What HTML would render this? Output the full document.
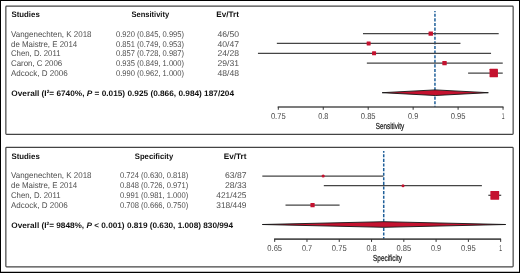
<!DOCTYPE html>
<html><head><meta charset="utf-8"><title>Forest plot</title>
<style>
html,body{margin:0;padding:0;background:#fff;}
body{width:520px;height:273px;overflow:hidden;}
svg{display:block;font-family:"Liberation Sans",sans-serif;text-rendering:geometricPrecision;will-change:transform;}
</style></head>
<body>
<svg width="520" height="273" viewBox="0 0 520 273">
<rect x="0" y="0" width="520" height="273" fill="#000"/>
<rect x="1" y="1" width="518" height="270.75" fill="#fff"/>
<rect x="5.85" y="6.1" width="507.3" rx="0.8" height="128.3" fill="#fff" stroke="#444444" stroke-width="1.2"/>
<text x="11.5" y="17" font-size="8.0" fill="#111" font-weight="bold" textLength="28.25" lengthAdjust="spacingAndGlyphs">Studies</text>
<text x="150.3" y="17" font-size="8.0" fill="#111" font-weight="bold" text-anchor="middle" textLength="37.8" lengthAdjust="spacingAndGlyphs">Sensitivity</text>
<text x="239" y="17" font-size="8.0" fill="#111" font-weight="bold" text-anchor="end" textLength="22.7" lengthAdjust="spacingAndGlyphs">Ev/Trt</text>
<text x="11" y="37" font-size="8.3" fill="#4e4e4e" textLength="80.5" lengthAdjust="spacingAndGlyphs">Vangenechten, K 2018</text>
<text x="116" y="37" font-size="8.3" fill="#4e4e4e" textLength="68" lengthAdjust="spacingAndGlyphs">0.920 (0.845, 0.995)</text>
<text x="239" y="37" font-size="8.3" fill="#4e4e4e" text-anchor="end" textLength="21.5" lengthAdjust="spacingAndGlyphs">46/50</text>
<text x="11" y="47" font-size="8.3" fill="#4e4e4e" textLength="66.25" lengthAdjust="spacingAndGlyphs">de Maistre, E 2014</text>
<text x="116" y="47" font-size="8.3" fill="#4e4e4e" textLength="68" lengthAdjust="spacingAndGlyphs">0.851 (0.749, 0.953)</text>
<text x="239" y="47" font-size="8.3" fill="#4e4e4e" text-anchor="end" textLength="21.5" lengthAdjust="spacingAndGlyphs">40/47</text>
<text x="11" y="56" font-size="8.3" fill="#4e4e4e" textLength="49.5" lengthAdjust="spacingAndGlyphs">Chen, D. 2011</text>
<text x="116" y="56" font-size="8.3" fill="#4e4e4e" textLength="68" lengthAdjust="spacingAndGlyphs">0.857 (0.728, 0.987)</text>
<text x="239" y="56" font-size="8.3" fill="#4e4e4e" text-anchor="end" textLength="21.5" lengthAdjust="spacingAndGlyphs">24/28</text>
<text x="11" y="66" font-size="8.3" fill="#4e4e4e" textLength="51.25" lengthAdjust="spacingAndGlyphs">Caron, C 2006</text>
<text x="116" y="66" font-size="8.3" fill="#4e4e4e" textLength="68" lengthAdjust="spacingAndGlyphs">0.935 (0.849, 1.000)</text>
<text x="239" y="66" font-size="8.3" fill="#4e4e4e" text-anchor="end" textLength="21.5" lengthAdjust="spacingAndGlyphs">29/31</text>
<text x="11" y="76" font-size="8.3" fill="#4e4e4e" textLength="56.75" lengthAdjust="spacingAndGlyphs">Adcock, D 2006</text>
<text x="116" y="76" font-size="8.3" fill="#4e4e4e" textLength="68" lengthAdjust="spacingAndGlyphs">0.990 (0.962, 1.000)</text>
<text x="239" y="76" font-size="8.3" fill="#4e4e4e" text-anchor="end" textLength="21.5" lengthAdjust="spacingAndGlyphs">48/48</text>
<text x="11.3" y="96" font-size="8.0" fill="#111" font-weight="bold" textLength="222.7" lengthAdjust="spacingAndGlyphs">Overall (I<tspan font-size="4.6" dy="-2.6">2</tspan><tspan dy="2.6">= 6740%, </tspan><tspan font-style="italic">P</tspan> = 0.015) 0.925 (0.866, 0.984) 187/204</text>
<line x1="434.95" y1="10.9" x2="434.95" y2="106.95" stroke="#1f5f99" stroke-width="1.5" stroke-dasharray="3.1 1.5" stroke-dashoffset="1.75"/>
<line x1="362.98" y1="33.6" x2="498.70" y2="33.6" stroke="#454545" stroke-width="1.25"/>
<rect x="428.55" y="31.40" width="4.4" height="4.4" rx="0.4" fill="#c4122f"/>
<line x1="276.85" y1="43.4" x2="460.45" y2="43.4" stroke="#454545" stroke-width="1.25"/>
<rect x="366.65" y="41.40" width="4.0" height="4.0" rx="0.4" fill="#c4122f"/>
<line x1="257.95" y1="53.3" x2="491.05" y2="53.3" stroke="#454545" stroke-width="1.25"/>
<rect x="372.05" y="51.30" width="4.0" height="4.0" rx="0.4" fill="#c4122f"/>
<line x1="366.85" y1="63.1" x2="502.75" y2="63.1" stroke="#454545" stroke-width="1.25"/>
<rect x="442.32" y="60.90" width="4.4" height="4.4" rx="0.4" fill="#c4122f"/>
<line x1="468.10" y1="73.0" x2="502.75" y2="73.0" stroke="#454545" stroke-width="1.25"/>
<rect x="489.55" y="68.80" width="8.4" height="8.4" rx="0.4" fill="#c4122f"/>
<polygon points="382.15,92.7 435.25,89.9 488.35,92.7 435.25,95.5" fill="#c4122f" stroke="#151515" stroke-width="0.9" stroke-linejoin="round"/>
<line x1="277.70" y1="106.95" x2="503.45" y2="106.95" stroke="#505050" stroke-width="1.6"/>
<line x1="278.30" y1="106.95" x2="278.30" y2="109.75" stroke="#333" stroke-width="1"/>
<text x="278.3" y="119" font-size="8.5" fill="#4a4a4a" text-anchor="middle" textLength="14.8" lengthAdjust="spacingAndGlyphs">0.75</text>
<line x1="323.25" y1="106.95" x2="323.25" y2="109.75" stroke="#333" stroke-width="1"/>
<text x="323.25" y="119" font-size="8.5" fill="#4a4a4a" text-anchor="middle" textLength="10.2" lengthAdjust="spacingAndGlyphs">0.8</text>
<line x1="368.20" y1="106.95" x2="368.20" y2="109.75" stroke="#333" stroke-width="1"/>
<text x="368.2" y="119" font-size="8.5" fill="#4a4a4a" text-anchor="middle" textLength="14.8" lengthAdjust="spacingAndGlyphs">0.85</text>
<line x1="413.15" y1="106.95" x2="413.15" y2="109.75" stroke="#333" stroke-width="1"/>
<text x="413.15" y="119" font-size="8.5" fill="#4a4a4a" text-anchor="middle" textLength="10.2" lengthAdjust="spacingAndGlyphs">0.9</text>
<line x1="458.10" y1="106.95" x2="458.10" y2="109.75" stroke="#333" stroke-width="1"/>
<text x="458.1" y="119" font-size="8.5" fill="#4a4a4a" text-anchor="middle" textLength="14.8" lengthAdjust="spacingAndGlyphs">0.95</text>
<line x1="503.05" y1="106.95" x2="503.05" y2="109.75" stroke="#333" stroke-width="1"/>
<text x="503.05" y="119" font-size="8.5" fill="#4a4a4a" text-anchor="middle" textLength="2.8" lengthAdjust="spacingAndGlyphs">1</text>
<text x="390.0" y="129" font-size="8.7" fill="#111" text-anchor="middle" textLength="28.5" lengthAdjust="spacingAndGlyphs" stroke="#111" stroke-width="0.2">Sensitivity</text>
<rect x="5.85" y="147.4" width="507.3" rx="0.8" height="119.45000000000002" fill="#fff" stroke="#444444" stroke-width="1.2"/>
<text x="11.5" y="159" font-size="8.0" fill="#111" font-weight="bold" textLength="28.25" lengthAdjust="spacingAndGlyphs">Studies</text>
<text x="154" y="159" font-size="8.0" fill="#111" font-weight="bold" text-anchor="middle" textLength="38.4" lengthAdjust="spacingAndGlyphs">Specificity</text>
<text x="246.5" y="159" font-size="8.0" fill="#111" font-weight="bold" text-anchor="end" textLength="22.7" lengthAdjust="spacingAndGlyphs">Ev/Trt</text>
<text x="11" y="178" font-size="8.3" fill="#4e4e4e" textLength="80.5" lengthAdjust="spacingAndGlyphs">Vangenechten, K 2018</text>
<text x="120" y="178" font-size="8.3" fill="#4e4e4e" textLength="68.30000000000001" lengthAdjust="spacingAndGlyphs">0.724 (0.630, 0.818)</text>
<text x="246.5" y="178" font-size="8.3" fill="#4e4e4e" text-anchor="end" textLength="21.5" lengthAdjust="spacingAndGlyphs">63/87</text>
<text x="11" y="188" font-size="8.3" fill="#4e4e4e" textLength="66.25" lengthAdjust="spacingAndGlyphs">de Maistre, E 2014</text>
<text x="120" y="188" font-size="8.3" fill="#4e4e4e" textLength="68.30000000000001" lengthAdjust="spacingAndGlyphs">0.848 (0.726, 0.971)</text>
<text x="246.5" y="188" font-size="8.3" fill="#4e4e4e" text-anchor="end" textLength="21.5" lengthAdjust="spacingAndGlyphs">28/33</text>
<text x="11" y="198" font-size="8.3" fill="#4e4e4e" textLength="49.5" lengthAdjust="spacingAndGlyphs">Chen, D. 2011</text>
<text x="120" y="198" font-size="8.3" fill="#4e4e4e" textLength="68.30000000000001" lengthAdjust="spacingAndGlyphs">0.991 (0.981, 1.000)</text>
<text x="246.5" y="198" font-size="8.3" fill="#4e4e4e" text-anchor="end" textLength="30.2" lengthAdjust="spacingAndGlyphs">421/425</text>
<text x="11" y="208" font-size="8.3" fill="#4e4e4e" textLength="56.75" lengthAdjust="spacingAndGlyphs">Adcock, D 2006</text>
<text x="120" y="208" font-size="8.3" fill="#4e4e4e" textLength="68.30000000000001" lengthAdjust="spacingAndGlyphs">0.708 (0.666, 0.750)</text>
<text x="246.5" y="208" font-size="8.3" fill="#4e4e4e" text-anchor="end" textLength="30.2" lengthAdjust="spacingAndGlyphs">318/449</text>
<text x="11.3" y="228" font-size="8.0" fill="#111" font-weight="bold" textLength="221.7" lengthAdjust="spacingAndGlyphs">Overall (I<tspan font-size="4.6" dy="-2.6">2</tspan><tspan dy="2.6">= 9848%, </tspan><tspan font-style="italic">P</tspan> &lt; 0.001) 0.819 (0.630, 1.008) 830/994</text>
<line x1="383.72" y1="150.9" x2="383.72" y2="239.1" stroke="#1f5f99" stroke-width="1.5" stroke-dasharray="3.1 1.5" stroke-dashoffset="1.25"/>
<line x1="262.32" y1="176" x2="383.38" y2="176" stroke="#454545" stroke-width="1.25"/>
<rect x="321.57" y="174.40" width="3.2" height="3.2" rx="1.6" fill="#c4122f"/>
<line x1="323.81" y1="185.65" x2="481.89" y2="185.65" stroke="#454545" stroke-width="1.25"/>
<rect x="401.51" y="184.15" width="3.0" height="3.0" rx="1.6" fill="#c4122f"/>
<line x1="488.33" y1="195.3" x2="501.21" y2="195.3" stroke="#454545" stroke-width="1.25"/>
<rect x="490.37" y="190.90" width="8.8" height="8.8" rx="0.4" fill="#c4122f"/>
<line x1="285.50" y1="205.2" x2="339.59" y2="205.2" stroke="#454545" stroke-width="1.25"/>
<rect x="310.45" y="203.10" width="4.2" height="4.2" rx="0.4" fill="#c4122f"/>
<polygon points="262.32,224.5 384.02,221.7 505.72,224.5 384.02,227.3" fill="#c4122f" stroke="#151515" stroke-width="0.9" stroke-linejoin="round"/>
<line x1="274.10" y1="239.1" x2="501.06" y2="239.1" stroke="#505050" stroke-width="1.6"/>
<line x1="274.70" y1="239.1" x2="274.70" y2="241.9" stroke="#333" stroke-width="1"/>
<text x="274.7" y="251" font-size="8.5" fill="#4a4a4a" text-anchor="middle" textLength="14.8" lengthAdjust="spacingAndGlyphs">0.65</text>
<line x1="306.98" y1="239.1" x2="306.98" y2="241.9" stroke="#333" stroke-width="1"/>
<text x="306.98" y="251" font-size="8.5" fill="#4a4a4a" text-anchor="middle" textLength="10.2" lengthAdjust="spacingAndGlyphs">0.7</text>
<line x1="339.26" y1="239.1" x2="339.26" y2="241.9" stroke="#333" stroke-width="1"/>
<text x="339.26" y="251" font-size="8.5" fill="#4a4a4a" text-anchor="middle" textLength="14.8" lengthAdjust="spacingAndGlyphs">0.75</text>
<line x1="371.54" y1="239.1" x2="371.54" y2="241.9" stroke="#333" stroke-width="1"/>
<text x="371.54" y="251" font-size="8.5" fill="#4a4a4a" text-anchor="middle" textLength="10.2" lengthAdjust="spacingAndGlyphs">0.8</text>
<line x1="403.82" y1="239.1" x2="403.82" y2="241.9" stroke="#333" stroke-width="1"/>
<text x="403.82" y="251" font-size="8.5" fill="#4a4a4a" text-anchor="middle" textLength="14.8" lengthAdjust="spacingAndGlyphs">0.85</text>
<line x1="436.10" y1="239.1" x2="436.10" y2="241.9" stroke="#333" stroke-width="1"/>
<text x="436.1" y="251" font-size="8.5" fill="#4a4a4a" text-anchor="middle" textLength="10.2" lengthAdjust="spacingAndGlyphs">0.9</text>
<line x1="468.38" y1="239.1" x2="468.38" y2="241.9" stroke="#333" stroke-width="1"/>
<text x="468.38" y="251" font-size="8.5" fill="#4a4a4a" text-anchor="middle" textLength="14.8" lengthAdjust="spacingAndGlyphs">0.95</text>
<line x1="500.66" y1="239.1" x2="500.66" y2="241.9" stroke="#333" stroke-width="1"/>
<text x="500.66" y="251" font-size="8.5" fill="#4a4a4a" text-anchor="middle" textLength="2.8" lengthAdjust="spacingAndGlyphs">1</text>
<text x="387.5" y="261" font-size="8.7" fill="#111" text-anchor="middle" textLength="29" lengthAdjust="spacingAndGlyphs" stroke="#111" stroke-width="0.2">Specificity</text>
</svg>
</body></html>
